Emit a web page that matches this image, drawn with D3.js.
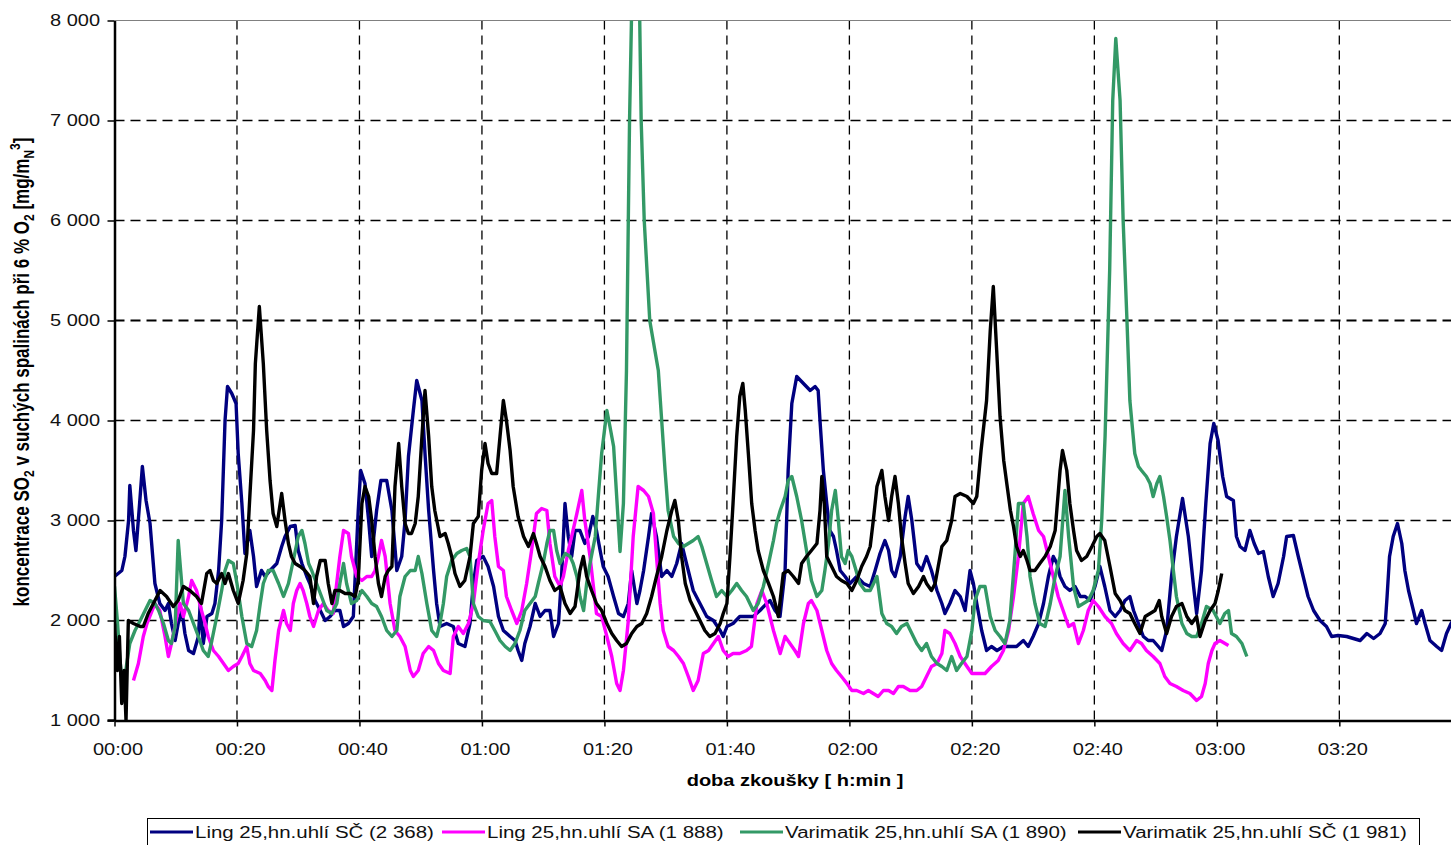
<!DOCTYPE html>
<html>
<head>
<meta charset="utf-8">
<script src="https://d3js.org/d3.v7.min.js"></script>
<style>
  html, body { margin: 0; padding: 0; background: #fff; overflow: hidden; }
  svg { display: block; font-family: "Liberation Sans", Arial, sans-serif; }
</style>
</head>
<body>
<svg id="chart" width="1451" height="845"></svg>
<script>
// [minute, SO2 mg/m3]
const lingSC = [[0,2440],[1.2,2500],[1.7,2640],[2.3,3000],[2.5,3350],[3.1,2900],[3.5,2700],[4.1,3170],[4.55,3540],[5.15,3200],[5.8,2970],[6.6,2370],[7.4,2170],[8.25,2100],[8.8,2170],[9.3,1970],[9.9,1800],[10.4,1970],[11,2100],[11.5,1870],[12.1,1700],[12.9,1670],[13.7,1840],[14,2170],[14.5,1770],[15.1,2040],[15.9,2070],[16.4,2170],[17,2500],[17.5,3000],[18.05,4000],[18.45,4340],[19.15,4270],[19.85,4170],[20.2,3670],[20.8,3170],[21.3,2670],[22.1,2900],[22.7,2640],[23.2,2340],[24,2500],[24.6,2440],[25.4,2500],[26.5,2570],[27.3,2740],[27.85,2840],[28.7,2940],[29.5,2950],[30,2700],[30.6,2570],[31.4,2440],[31.9,2370],[32.75,2200],[33.6,2100],[34.4,2000],[35.2,2040],[36,2100],[36.8,2100],[37.4,1940],[38.2,1970],[39,2040],[39.8,3100],[40.2,3500],[40.9,3370],[41.5,3000],[42,2640],[42.8,3100],[43.5,3400],[44.45,3400],[45.3,3100],[46.1,2500],[46.9,2640],[47.45,3000],[48,3640],[48.8,4100],[49.35,4400],[50.2,4200],[50.7,3670],[51.3,3100],[52.1,2500],[52.6,2170],[53.15,1940],[54.24,1970],[55.33,1940],[56.14,1770],[57.23,1740],[58.05,1970],[58.6,2370],[59.15,2600],[60.2,2640],[61,2540],[61.9,2340],[62.7,2040],[63.5,1900],[64.6,1840],[65.4,1800],[65.9,1700],[66.5,1600],[67,1770],[67.85,1940],[68.7,2170],[69.5,2040],[70.3,2100],[71.1,2100],[71.7,1840],[72.5,1970],[73,2440],[73.56,3170],[74.1,2840],[74.65,2640],[75.2,2900],[76,2900],[76.8,2770],[77.4,2840],[78.1,3040],[78.7,2900],[79.3,2700],[79.8,2540],[80.6,2440],[81.5,2240],[82.3,2070],[83.1,2040],[83.9,2170],[84.45,2500],[85.3,2170],[85.8,2300],[86.4,2500],[87.2,2840],[87.7,3070],[88.5,2840],[89.35,2440],[90.2,2500],[91,2440],[91.8,2570],[92.6,2770],[93.4,2570],[94.5,2300],[95.6,2170],[96.7,2040],[97.8,2000],[98.9,1900],[99.4,1840],[100,1940],[101,1970],[102.1,2040],[103.2,2040],[104.3,2040],[105.4,2100],[106.5,2170],[107.04,2200],[107.86,2100],[108.67,2040],[109.5,2500],[110,3500],[110.6,4170],[111.4,4440],[112.5,4370],[113.6,4300],[114.4,4340],[114.9,4300],[115.2,4000],[115.75,3500],[116.3,3170],[116.8,2900],[117.4,2840],[117.9,2700],[118.5,2500],[119.3,2440],[120.1,2370],[121.2,2440],[122.3,2370],[123.4,2340],[124.2,2500],[125,2670],[125.8,2800],[126.4,2700],[126.9,2500],[127.45,2440],[128.3,2640],[129.1,3040],[129.6,3240],[130.2,3000],[131,2570],[131.8,2500],[132.6,2640],[133.4,2500],[134.3,2300],[135.1,2170],[135.6,2070],[136.4,2170],[137.25,2300],[138.1,2240],[138.9,2100],[139.7,2500],[140.25,2370],[140.8,2170],[141.6,1900],[142.4,1700],[143.2,1740],[144.1,1700],[145.15,1740],[146.2,1740],[147.3,1740],[148.4,1800],[149.2,1740],[150,1840],[150.9,1970],[151.7,2170],[152.5,2440],[153.3,2640],[153.9,2570],[154.4,2440],[155.2,2340],[156,2300],[156.85,2340],[157.7,2240],[158.5,2240],[159.3,2200],[160.1,2340],[160.9,2540],[161.7,2340],[162.55,2100],[163.4,2040],[164.2,2100],[165,2200],[165.8,2240],[166.4,2100],[167.2,1970],[168,1840],[168.8,1800],[169.6,1800],[170.45,1740],[171,1700],[171.8,1900],[172.6,2440],[173.4,2840],[174.4,3220],[175.35,2840],[176.2,2340],[176.7,2070],[177.5,2500],[178.2,3170],[178.9,3770],[179.5,3970],[180.2,3800],[180.95,3440],[181.6,3240],[182.7,3200],[183.2,2840],[183.8,2740],[184.6,2700],[185.4,2900],[186.1,2770],[186.8,2670],[187.6,2690],[188.4,2440],[189.2,2240],[190,2370],[190.9,2640],[191.4,2840],[192.5,2850],[193.3,2640],[194.1,2440],[194.9,2240],[195.8,2100],[196.85,2000],[197.9,1940],[198.75,1840],[199.8,1850],[201.2,1840],[202.3,1820],[203.4,1800],[204.5,1870],[205.6,1820],[206.65,1870],[207.5,1970],[207.8,2240],[208.2,2640],[208.8,2840],[209.5,2970],[210.2,2770],[210.7,2500],[211.3,2300],[212.1,2100],[212.6,1970],[213.45,2100],[214,1970],[214.8,1800],[215.9,1740],[216.7,1700],[217.5,1870],[218.24,1970],[219,2050]];

const lingSA = [[3.1,1400],[3.9,1570],[4.7,1840],[5.3,1970],[6.6,2170],[7.4,2100],[8.25,1840],[8.8,1640],[9.3,1770],[10.2,2040],[10.7,2170],[11.25,2040],[12.1,2240],[12.6,2400],[13.4,2300],[14.2,2100],[14.8,1970],[15.3,1840],[16.15,1700],[17,1640],[17.8,1570],[18.6,1500],[19.4,1540],[20.2,1570],[20.8,1640],[21.6,1740],[22.1,1570],[22.7,1500],[23.8,1470],[24.6,1400],[25.1,1340],[25.7,1300],[26.2,1600],[26.8,1900],[27.6,2100],[28.1,1970],[28.7,1900],[29.2,2170],[29.75,2300],[30.3,2370],[30.8,2300],[31.4,2170],[31.9,2040],[32.5,1940],[33.3,2100],[34.1,2170],[34.9,2100],[35.7,2070],[36.8,2640],[37.4,2900],[38.2,2870],[38.7,2640],[39.55,2440],[40.4,2400],[41.2,2440],[42,2440],[42.55,2500],[43.1,2640],[43.6,2800],[44.2,2640],[45,2170],[45.8,1900],[46.6,1840],[47.45,1740],[48.3,1500],[48.8,1440],[49.6,1500],[50.4,1670],[51.3,1740],[52.1,1700],[52.9,1570],[53.7,1500],[54.8,1470],[55.33,1840],[56.14,1940],[56.96,1870],[57.8,1970],[58.6,2170],[59.4,2570],[60.2,2900],[61,3170],[61.6,3200],[62.1,2840],[62.7,2540],[63.5,2500],[64,2240],[64.85,2100],[65.7,1970],[66.5,2100],[67.3,2370],[68.1,2700],[68.9,3070],[69.75,3120],[70.6,3100],[71.1,2770],[71.9,2440],[72.75,2340],[73.3,2440],[74.1,2700],[74.65,2840],[75.5,3070],[76.3,3300],[76.8,3000],[77.65,2640],[78.2,2340],[78.7,2070],[79.55,2040],[80.4,1840],[81.2,1640],[82,1370],[82.55,1300],[83.1,1500],[83.9,2000],[84.7,2840],[85.5,3340],[86.4,3300],[87.2,3240],[88,3070],[88.5,2640],[89.1,2170],[89.6,1900],[90.4,1740],[91.3,1700],[92.1,1640],[92.9,1570],[93.7,1440],[94.5,1300],[95.3,1400],[96.15,1670],[97,1700],[97.8,1770],[98.6,1840],[99.4,1700],[100.2,1640],[101,1670],[102.1,1670],[103.2,1700],[104,1740],[104.9,2170],[105.7,2300],[106.5,2170],[107.6,1900],[108.7,1670],[109.5,1840],[110.3,1770],[111.1,1700],[111.7,1640],[112.5,1970],[113.3,2170],[113.8,2200],[114.7,2100],[115.5,1900],[116.3,1700],[117.1,1570],[117.9,1500],[118.7,1440],[119.6,1370],[120.4,1300],[121.2,1300],[122.3,1270],[123.1,1300],[123.9,1270],[124.7,1240],[125.55,1300],[126.4,1300],[127.2,1270],[128,1340],[128.8,1340],[129.9,1300],[131,1300],[131.8,1340],[132.6,1440],[133.4,1540],[134.3,1570],[135.1,1670],[135.6,1900],[136.4,1870],[137.25,1770],[138.1,1640],[139.2,1540],[140,1470],[141.1,1470],[142.15,1470],[143.2,1540],[144.3,1600],[145.15,1700],[146,1900],[146.8,2240],[147.6,2640],[148.4,3170],[149.2,3240],[150,3070],[150.9,2900],[151.7,2840],[152.5,2640],[153.3,2440],[154.1,2240],[154.9,2100],[155.8,1940],[156.6,1970],[157.4,1770],[158.2,1900],[159,2100],[159.8,2200],[160.66,2140],[161.74,2040],[162.8,1970],[163.6,1870],[164.7,1770],[165.8,1700],[166.9,1800],[167.7,1770],[168.5,1700],[169.6,1640],[170.7,1570],[171.5,1440],[172.35,1370],[173.4,1340],[174.5,1300],[175.6,1270],[176.7,1200],[177.5,1240],[178.1,1370],[178.6,1570],[179.2,1700],[179.7,1770],[180.5,1800],[181.9,1750]];

const varimatikSA = [[0,2340],[0.5,1970],[0.9,1600],[1.45,1300],[2,1570],[2.5,1770],[3.35,1900],[4.2,2000],[5,2100],[5.8,2200],[6.6,2170],[7.2,2100],[8,1970],[8.8,1800],[9.3,1770],[9.9,1940],[10.4,2800],[10.8,2500],[11.25,2170],[12.1,2100],[12.9,1970],[13.7,1840],[14.5,1700],[15.3,1640],[15.9,1800],[16.7,2040],[17.5,2300],[18.05,2500],[18.6,2600],[19.4,2570],[20,2370],[20.8,2040],[21.6,1770],[22.4,1740],[23.2,1900],[23.8,2170],[24.3,2370],[25.1,2500],[25.9,2500],[26.8,2370],[27.6,2240],[28.4,2370],[29.2,2600],[30,2840],[30.6,2900],[31.1,2770],[31.7,2570],[32.2,2500],[33,2370],[33.8,2240],[34.65,2100],[35.5,2070],[36.3,2170],[36.8,2370],[37.4,2570],[37.9,2370],[38.7,2170],[39.55,2200],[40.4,2300],[41.2,2240],[42,2170],[42.8,2140],[43.6,2040],[44.45,1900],[45.3,1840],[46.1,1900],[46.6,2240],[47.45,2440],[48.3,2500],[49.1,2500],[49.6,2640],[50.2,2470],[51,2170],[51.8,1900],[52.6,1840],[53.15,1970],[53.7,2170],[54.24,2440],[55.06,2600],[55.9,2670],[56.7,2700],[57.5,2720],[58.05,2640],[58.6,2170],[59.4,2040],[60.2,2000],[61.3,1990],[62.1,1900],[62.95,1800],[63.8,1740],[64.6,1700],[65.4,1770],[66.2,1900],[67,2100],[67.85,2170],[68.7,2240],[69.2,2370],[70,2570],[70.6,2770],[71.1,2900],[71.7,2900],[72.2,2700],[72.75,2570],[73.6,2670],[74.4,2640],[74.9,2570],[75.5,2440],[76,2240],[76.6,2100],[77.1,2370],[77.65,2570],[78.5,2840],[79,3240],[79.55,3670],[80.4,4100],[80.9,3940],[81.5,3740],[82,3240],[82.55,2690],[83.1,3170],[83.6,4500],[84.1,7000],[84.6,8600],[85.1,10200],[85.6,8700],[86,7000],[86.5,6000],[87.4,5000],[88.8,4500],[89.35,4000],[89.9,3500],[90.4,3100],[91.3,2840],[92.1,2770],[92.9,2740],[93.7,2770],[94.5,2800],[95.3,2840],[95.9,2740],[96.7,2570],[97.5,2400],[98.3,2240],[99.15,2300],[100,2240],[100.8,2300],[101.6,2370],[102.4,2300],[103.2,2240],[104.3,2100],[105.1,2170],[105.95,2340],[106.8,2570],[107.6,2800],[108.1,2970],[108.7,3100],[109.5,3240],[110,3400],[110.6,3440],[111.4,3240],[112.2,3000],[113,2700],[113.8,2400],[114.7,2240],[115.5,2300],[116,2500],[116.6,2770],[117.1,3100],[117.7,3300],[118.2,3000],[118.7,2640],[119.3,2570],[119.8,2700],[120.4,2640],[120.9,2540],[121.7,2370],[122.55,2300],[123.4,2300],[124.5,2440],[125.3,2070],[126.1,1970],[126.9,1940],[127.7,1870],[128.5,1940],[129.4,1970],[130.2,1870],[131,1770],[131.8,1700],[132.6,1770],[133.4,1640],[134.3,1570],[135.1,1540],[135.9,1500],[136.7,1640],[137.5,1500],[138.3,1570],[139.2,1640],[140,1900],[140.5,2200],[141.3,2340],[142.15,2340],[143,2040],[143.8,1900],[144.6,1840],[145.4,1770],[146.2,2000],[147.05,2670],[147.6,3170],[148.4,3170],[149,2840],[149.5,2440],[150.3,2170],[151.1,1970],[151.95,1940],[152.8,2170],[153.6,2440],[154.4,2640],[155.2,3300],[155.8,2840],[156.6,2340],[157.4,2140],[158.2,2170],[159,2200],[159.8,2300],[160.66,2500],[161.2,3000],[161.75,3840],[162.5,5500],[163,7200],[163.5,7820],[164.2,7200],[164.7,6000],[165.3,5040],[165.8,4200],[166.1,4000],[166.6,3670],[167.2,3540],[167.7,3500],[168.5,3440],[169.1,3370],[169.6,3240],[170.2,3370],[170.7,3440],[171.3,3240],[171.8,3040],[172.35,2800],[172.9,2500],[173.4,2240],[174.3,1970],[175.1,1870],[175.9,1840],[176.7,1840],[177.5,1970],[178.3,2140],[179.4,2100],[180.5,1970],[181.3,2070],[181.9,2100],[182.4,1870],[183.2,1840],[184.1,1770],[184.9,1640]];

const varimatikSC = [[0,1970],[0.47,1500],[0.8,1840],[1.18,1170],[1.56,1500],[1.88,1000],[2.26,2000],[3.1,1970],[4.2,1940],[4.7,1940],[5.5,2070],[6.35,2170],[7.44,2300],[8.5,2240],[9.6,2140],[10.4,2200],[11.25,2340],[12.3,2300],[13.4,2240],[14.2,2170],[15.06,2470],[15.6,2500],[16.15,2400],[16.7,2370],[17.5,2470],[18.05,2370],[18.6,2470],[19.4,2300],[20.2,2170],[21,2400],[21.6,2670],[22.1,3240],[22.7,3900],[23,4570],[23.65,5140],[24.3,4570],[24.85,3900],[25.4,3400],[25.9,3070],[26.5,2940],[27.3,3270],[27.85,3000],[28.4,2770],[28.9,2640],[29.5,2570],[30.3,2540],[31.1,2500],[31.9,2440],[32.5,2170],[33,2440],[33.6,2600],[34.4,2600],[34.9,2370],[35.5,2170],[36,2300],[36.8,2300],[37.65,2270],[38.5,2270],[39.3,2240],[39.8,2400],[40.4,3170],[40.9,3340],[41.5,3240],[42,3000],[42.55,2640],[43.1,2370],[43.6,2240],[44.2,2440],[44.7,2500],[45.3,2540],[45.8,3340],[46.4,3770],[46.9,3340],[47.45,2970],[48,2870],[48.5,2870],[49.1,2970],[49.6,3240],[50.2,3840],[50.7,4300],[51.3,3840],[51.8,3340],[52.3,3100],[53.15,2840],[54,2870],[54.5,2770],[55.06,2640],[55.6,2470],[56.4,2340],[57.2,2400],[58.05,2640],[58.6,2970],[59.4,3040],[59.95,3500],[60.5,3770],[61,3570],[61.6,3470],[62.4,3470],[62.95,3840],[63.5,4200],[64,4000],[64.6,3700],[65.1,3340],[65.9,3040],[66.8,2840],[67.6,2740],[68.4,2870],[68.9,2770],[69.5,2640],[70.3,2540],[71.1,2400],[71.9,2300],[72.75,2340],[73.56,2170],[74.4,2070],[75.2,2140],[76,2500],[76.56,2640],[77.1,2440],[77.9,2300],[78.7,2170],[79.55,2100],[80.4,1970],[81.2,1870],[82,1800],[82.8,1740],[83.6,1770],[84.45,1870],[85.3,1940],[86.1,1970],[86.9,2070],[87.7,2240],[88.5,2440],[89.35,2640],[90.2,2900],[91,3100],[91.5,3200],[92.07,3000],[92.6,2640],[93.2,2370],[94,2200],[94.8,2100],[95.6,2000],[96.4,1900],[97.2,1840],[98.06,1870],[98.9,1970],[99.4,2070],[100,2170],[100.5,2640],[101,3170],[101.6,3840],[102.1,4240],[102.6,4370],[103,4100],[103.5,3670],[104.05,3170],[104.6,2900],[105.1,2700],[105.95,2500],[106.8,2370],[107.6,2240],[108.4,2040],[109.2,2470],[110,2500],[110.85,2440],[111.7,2370],[112.2,2570],[113,2640],[113.8,2700],[114.7,2770],[115.2,3100],[115.5,3440],[115.9,3170],[116.3,2640],[117.1,2540],[117.9,2440],[118.7,2400],[119.6,2370],[120.4,2300],[121.2,2400],[122,2540],[122.8,2640],[123.4,2740],[123.9,3000],[124.5,3340],[125.3,3500],[125.8,3240],[126.4,3000],[126.9,3240],[127.45,3440],[128,3170],[128.5,2840],[129.1,2570],[129.6,2370],[130.45,2270],[131.3,2340],[132.1,2440],[132.6,2370],[133.4,2300],[134,2370],[134.5,2540],[135.1,2740],[135.9,2800],[136.7,3000],[137.25,3240],[138.1,3270],[139.2,3240],[140.25,3170],[140.8,3240],[141.5,3700],[142.4,4200],[143,4900],[143.5,5340],[144.05,4700],[144.6,4040],[145.2,3600],[145.7,3370],[146.3,3100],[146.8,2940],[147.3,2740],[147.9,2640],[148.4,2700],[149,2600],[149.5,2500],[150.3,2500],[151.1,2570],[151.95,2640],[152.8,2740],[153.6,2900],[154.4,3500],[154.8,3700],[155.5,3500],[156,3170],[156.6,2900],[157.1,2700],[157.9,2600],[158.75,2640],[159.6,2740],[160.4,2840],[160.9,2870],[161.7,2800],[162.55,2540],[163.4,2270],[164.2,2200],[165,2100],[165.8,2070],[166.6,1970],[167.45,1870],[168.3,2040],[169.1,2070],[169.9,2100],[170.6,2200],[171,2040],[171.8,1870],[172.6,2040],[173.4,2140],[174.3,2170],[175.1,2040],[175.9,1970],[176.7,2040],[177.25,1840],[178.1,2000],[178.9,2100],[179.7,2170],[180.24,2300],[180.8,2470]];

const seriesNames = ['Ling 25,hn.uhlí SČ (2 368)', 'Ling 25,hn.uhlí SA (1 888)', 'Varimatik 25,hn.uhlí SA (1 890)', 'Varimatik 25,hn.uhlí SČ (1 981)'];
const seriesColors = ['#000080', '#ff00ff', '#339966', '#000000'];
const yTicks = [1000, 2000, 3000, 4000, 5000, 6000, 7000, 8000];
const xTicks = [0, 20, 40, 60, 80, 100, 120, 140, 160, 180, 200];

const stretch = 1.25;
const svg = d3.select('svg#chart');

const xScale = d3.scaleLinear().domain([0, 220]).range([114.5, 1461.8]);
const yScale = d3.scaleLinear().domain([1000, 8000]).range([720.5, 20.5]);

const fmtY = v => d3.format(',')(v).replace(',', ' ');
const fmtX = m => String(Math.floor(m / 60)).padStart(2, '0') + ':' + String(m % 60).padStart(2, '0');

svg.append('defs').append('clipPath').attr('id', 'plot')
  .append('rect')
  .attr('x', xScale(0)).attr('y', yScale(8000))
  .attr('width', xScale(220) - xScale(0)).attr('height', yScale(1000) - yScale(8000));

// grid
svg.append('g').selectAll('line')
  .data(yTicks.filter(v => v > 1000 && v < 8000)).enter().append('line')
  .attr('x1', xScale(0)).attr('x2', xScale(220))
  .attr('y1', d => yScale(d)).attr('y2', d => yScale(d))
  .attr('stroke', '#000').attr('stroke-width', d => d === 5000 ? 2 : 1.3)
  .attr('stroke-dasharray', '10,6');

svg.append('g').selectAll('line')
  .data(xTicks.filter(m => m > 0)).enter().append('line')
  .attr('x1', d => xScale(d)).attr('x2', d => xScale(d))
  .attr('y1', yScale(8000)).attr('y2', yScale(1000))
  .attr('stroke', '#000').attr('stroke-width', 1.3)
  .attr('stroke-dasharray', '9,6');

svg.append('line')
  .attr('x1', xScale(0)).attr('x2', xScale(220))
  .attr('y1', yScale(8000)).attr('y2', yScale(8000))
  .attr('stroke', '#808080').attr('stroke-width', 1.2);

// series
const line = d3.line().x(d => xScale(d[0])).y(d => yScale(d[1]));
const allSeries = [lingSC, lingSA, varimatikSA, varimatikSC];
svg.append('g').attr('clip-path', 'url(#plot)')
  .selectAll('path').data(allSeries).enter().append('path')
  .attr('d', d => line(d))
  .attr('fill', 'none')
  .attr('stroke', (d, i) => seriesColors[i])
  .attr('stroke-width', 3.4)
  .attr('stroke-linejoin', 'round');

// axes
const yAxis = svg.append('g')
  .attr('transform', 'translate(' + xScale(0) + ',0)')
  .call(d3.axisLeft(yScale).tickValues(yTicks).tickFormat(fmtY).tickSize(7).tickSizeOuter(0));
const xAxis = svg.append('g')
  .attr('transform', 'translate(0,' + yScale(1000) + ')')
  .call(d3.axisBottom(xScale).tickValues(xTicks).tickFormat(fmtX).tickSize(6).tickSizeOuter(0));

[yAxis, xAxis].forEach(a => {
  a.select('.domain').attr('stroke', '#000').attr('stroke-width', 2.5);
  a.selectAll('.tick line').attr('stroke', '#000').attr('stroke-width', 1.5);
  a.selectAll('text').attr('font-size', 16).attr('fill', '#111')
    .attr('font-family', '"Liberation Sans", Arial, sans-serif');
});
yAxis.selectAll('text').attr('x', -11.5).attr('transform', 'scale(' + stretch + ',1)');
xAxis.selectAll('text').attr('y', 35).attr('dy', null)
  .attr('transform', 'translate(3,0) scale(' + stretch + ',1)');
yAxis.append('line').attr('x1', -7).attr('x2', 0).attr('y1', yScale(1000)).attr('y2', yScale(1000))
  .attr('stroke', '#000').attr('stroke-width', 2.5);

// axis titles
svg.append('text')
  .attr('transform', 'translate(795,786) scale(' + stretch + ',1)')
  .attr('text-anchor', 'middle').attr('font-size', 16).attr('font-weight', 'bold')
  .text('doba zkoušky [ h:min ]');

const yTitle = svg.append('text')
  .attr('transform', 'translate(29,372) scale(' + stretch + ',1) rotate(-90)')
  .attr('text-anchor', 'middle').attr('font-size', 17).attr('font-weight', 'bold');
[['koncentrace SO', 0, 17], ['2', 4, 12], [' v suchých spalinách při 6 % O', -4, 17], ['2', 4, 12],
 [' [mg/m', -4, 17], ['N', 4, 12], ['3', -11, 12], [']', 7, 17]].forEach(p => {
  yTitle.append('tspan').attr('dy', p[1]).attr('font-size', p[2]).text(p[0]);
});

// legend
const legend = svg.append('g');
legend.append('rect')
  .attr('x', 147.5).attr('y', 818.5).attr('width', 1272).attr('height', 40)
  .attr('fill', '#fff').attr('stroke', '#000').attr('stroke-width', 1);
const legendX = [150, 442, 740, 1078];
legendX.forEach((lx, i) => {
  legend.append('line')
    .attr('x1', lx).attr('x2', lx + 43).attr('y1', 832).attr('y2', 832)
    .attr('stroke', seriesColors[i]).attr('stroke-width', 3);
  legend.append('text')
    .attr('transform', 'translate(' + (lx + 45) + ',838) scale(1.28,1)')
    .attr('font-size', 16).attr('fill', '#111')
    .text(seriesNames[i]);
});
</script>
</body>
</html>
